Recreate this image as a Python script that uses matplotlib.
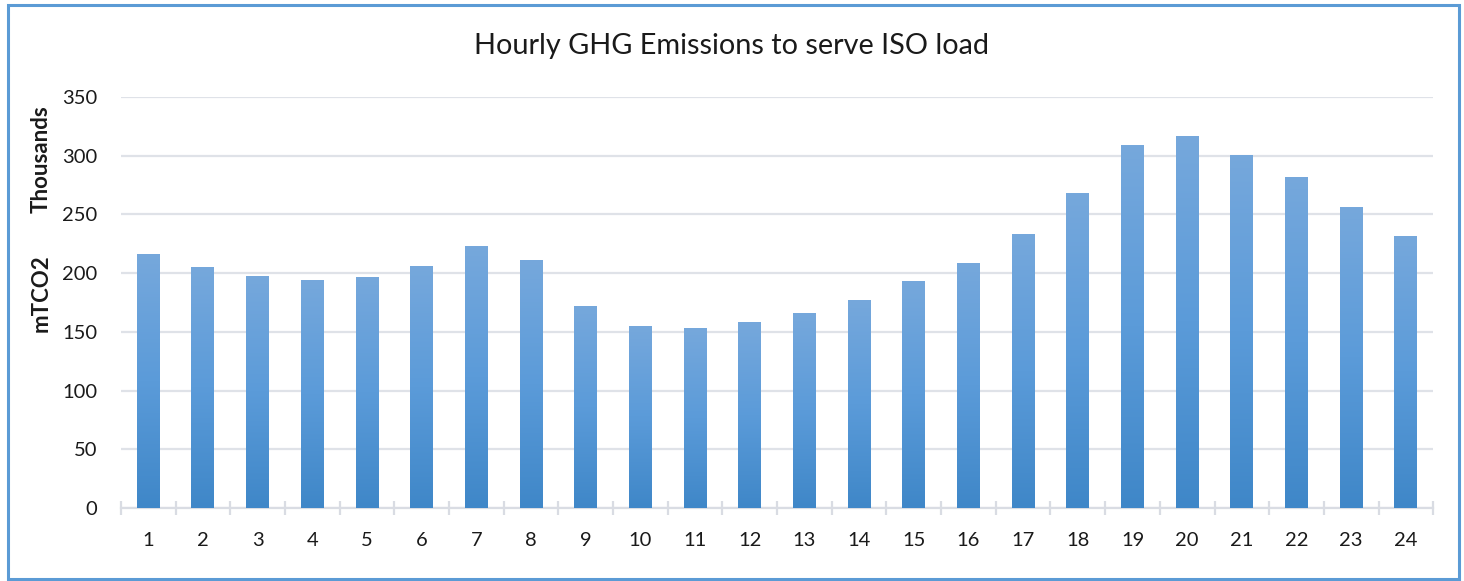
import numpy as np
import matplotlib
matplotlib.use("Agg")
from matplotlib import pyplot as plt
from matplotlib.colors import LinearSegmentedColormap
from matplotlib.patches import Rectangle

plt.rcParams['font.family'] = ['Lato', 'DejaVu Sans']

# data (thousands of mTCO2)
hours = list(range(1, 25))
emissions = [216, 205, 198, 194, 197, 206, 223, 211, 172, 155, 153, 158,
             166, 177, 193, 209, 233, 268, 309, 317, 301, 282, 256, 232]
y_ticks = [0, 50, 100, 150, 200, 250, 300, 350]

fig = plt.figure(figsize=(14.64, 5.81), dpi=100)
ax = fig.add_axes([0.0826, 0.1256, 0.8964, 0.7074])

# blue frame round the whole chart
fig.patches.append(Rectangle((0.0055, 0.003), 0.991, 0.988, transform=fig.transFigure,
                             fill=False, edgecolor='#5b9bd5', linewidth=2.2))

x = np.arange(len(hours))
bars = ax.bar(x, emissions, width=0.42, color='none', edgecolor='none', zorder=3)

# vertical gradient, lighter at top
cmap = LinearSegmentedColormap.from_list('grad', ['#3f87c8', '#5b9bd9', '#76a8dc'])
grad = np.linspace(0, 1, 256).reshape(-1, 1)
for b in bars:
    x0, w, h = b.get_x(), b.get_width(), b.get_height()
    im = ax.imshow(grad, cmap=cmap, origin='lower', aspect='auto',
                   extent=[x0, x0 + w, 0, h], zorder=3)
    im.set_clip_path(b)

ax.set_xlim(-0.5, len(hours) - 0.5)
ax.set_ylim(0, 350)
ax.set_yticks(y_ticks)
ax.set_xticks(x)
ax.set_xticklabels([str(h) for h in hours])
ax.set_xticks(np.arange(-0.5, len(hours), 1), minor=True)

ax.grid(axis='y', color='#dfe2e8', linewidth=1.6, zorder=0)
ax.set_axisbelow(True)
for s in ['top', 'right', 'left']:
    ax.spines[s].set_visible(False)
ax.spines['bottom'].set_color('#d9dce3')
ax.spines['bottom'].set_linewidth(1.6)

ax.tick_params(axis='y', length=0, labelsize=14.5, pad=17, labelcolor='#1a1a1a')
ax.tick_params(axis='x', which='major', length=0, labelsize=14.5, pad=17, labelcolor='#1a1a1a')
ax.tick_params(axis='x', which='minor', direction='inout', length=10, width=1.6, color='#d9dce3')

fig.text(0.5, 0.921, 'Hourly GHG Emissions to serve ISO load', ha='center', va='center',
         fontsize=20.8, color='#1a1a1a')
fig.text(0.028, 0.726, 'Thousands', rotation=90, ha='center', va='center',
         fontsize=16, fontweight='bold', color='#1a1a1a')
fig.text(0.028, 0.496, 'mTCO2', rotation=90, ha='center', va='center',
         fontsize=16, fontweight='bold', color='#1a1a1a')

fig.savefig('out.png', dpi=100)
